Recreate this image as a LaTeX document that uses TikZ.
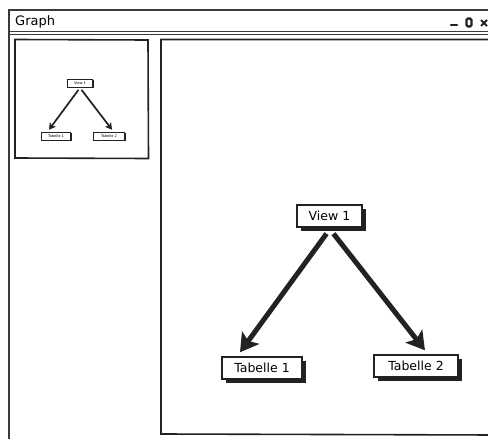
\documentclass[tikz,border=0pt]{standalone}
\usepackage{fontspec}
\setmainfont{DejaVu Sans}
\usetikzlibrary{arrows.meta,shadows,calc}
\definecolor{ink}{HTML}{222222}
\definecolor{frame}{HTML}{3A3A3A}
\begin{document}
\begin{tikzpicture}[x=1pt,y=-1pt,
  tablebox/.style={draw=ink,line width=1.4pt,fill=white,inner sep=0pt,
    minimum height=22pt,font=\fontsize{12.5}{14}\selectfont,
    drop shadow={shadow xshift=3.5pt,shadow yshift=-3.5pt,fill=ink,opacity=1}},
  minibox/.style={draw=ink,line width=0.6pt,fill=white,inner sep=0pt,
    minimum height=8pt,font=\fontsize{3.6}{4}\selectfont,
    drop shadow={shadow xshift=1pt,shadow yshift=-1pt,fill=ink,opacity=1}},
  bigarrow/.style={draw=ink,line width=5pt,
    -{Stealth[length=18pt,width=21pt,inset=4pt]}},
  miniarrow/.style={draw=ink,line width=1.7pt,
    -{Stealth[length=6.5pt,width=7.5pt,inset=1.5pt]}},
  panel/.style={draw=ink,line width=1.6pt}]
\useasboundingbox (0,0) rectangle (488,439);
\fill[white] (0,0) rectangle (488,439);
\clip (0,0) rectangle (488,439);

% window frame and title bar
\draw[frame,line width=1.8pt] (9,445) -- (9,10) -- (495,10);
\draw[frame,line width=1.4pt] (9,31.5) -- (495,31.5);
\draw[frame,line width=1.4pt] (9,34.5) -- (495,34.5);
\node[anchor=west,font=\fontsize{13}{15}\selectfont,inner sep=0pt] (title) at (15,22) {Graph};

% window buttons
\draw[ink,line width=2.6pt,line cap=round] (451,25) -- (457,25);
\draw[ink,line width=2.4pt,rounded corners=1.5pt] (466.5,18.5) rectangle (471.5,26.5);
\draw[ink,line width=1.8pt] (481,20) -- (487,26) (481,26) -- (487,20);

% overview panel
\draw[panel] (15,39.5) -- (148,40) -- (148.5,158.5) -- (15,158) -- cycle;
\node[minibox,minimum width=25pt] (m0) at (80,83) {View 1};
\node[minibox,minimum width=29pt] (m1) at (56,136) {Tabelle 1};
\node[minibox,minimum width=31pt] (m2) at (109,136) {Tabelle 2};
\draw[miniarrow] ($(m0.south)+(-1.5,2.5)$) -- ($(m1.north)+(-7,-2)$);
\draw[miniarrow] ($(m0.south)+(1.5,2.5)$) -- ($(m2.north)+(3,-2)$);

% main canvas
\draw[panel] (495,39.5) -- (161,39.5) -- (161,434) -- (495,435);

\node[tablebox,minimum width=65pt] (v1) at (329.5,216) {View 1};
\node[tablebox,minimum width=80pt] (t1) at (262,368) {Tabelle 1};
\node[tablebox,minimum width=84pt] (t2) at (416,366) {Tabelle 2};
\draw[bigarrow] ($(v1.south)+(-3,6)$) -- ($(t1.north)+(-22,-4)$);
\draw[bigarrow] ($(v1.south)+(4,6)$) -- ($(t2.north)+(9,-4)$);
\end{tikzpicture}
\end{document}
